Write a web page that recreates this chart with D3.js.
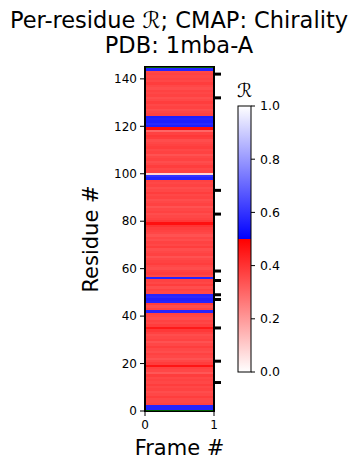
<!DOCTYPE html>
<html><head><meta charset="utf-8">
<script src="https://cdn.jsdelivr.net/npm/d3@7"></script>
<style>body{margin:0;background:#fff;} text{font-family:"DejaVu Sans",sans-serif;}</style>
</head><body><svg id="c" width="359" height="470"></svg>
<script>
// Per-residue R values, index = residue number (null = padding / undefined)
const rValues = [null,
 0.57,0.57,0.37,0.36,0.36,0.38,0.36,0.35,0.37,0.36,
 0.38,0.36,0.37,0.36,0.38,0.33,0.36,0.37,0.46,0.38,
 0.36,0.34,0.36,0.37,0.35,0.36,0.38,0.36,0.34,0.37,
 0.36,0.35,0.37,0.39,0.45,0.38,0.36,0.37,0.35,0.36,
 0.37,0.57,0.37,0.35,0.38,0.57,0.56,0.58,0.57,0.36,
 0.37,0.35,0.38,0.36,0.37,0.57,0.36,0.38,0.37,0.35,
 0.36,0.38,0.37,0.36,0.34,0.37,0.36,0.35,0.38,0.36,
 0.37,0.35,0.36,0.34,0.36,0.37,0.38,0.40,0.47,0.39,
 0.37,0.36,0.35,0.37,0.36,0.34,0.37,0.36,0.35,0.37,
 0.36,0.38,0.36,0.35,0.37,0.36,0.37,0.57,0.60,0.08,
 0.37,0.36,0.38,0.36,0.35,0.37,0.36,0.34,0.37,0.36,
 0.38,0.37,0.36,0.35,0.38,0.39,0.37,0.30,0.48,0.56,
 0.58,0.56,0.57,0.56,0.37,0.36,0.35,0.37,0.36,0.38,
 0.36,0.35,0.37,0.36,0.37,0.35,0.36,0.38,0.36,0.37,
 0.36,0.37,0.36,0.57,null];
const markedResidues = [12, 21, 35, 47, 49, 55, 59, 83, 93, 132, 142];
const yTicks = [0, 20, 40, 60, 80, 100, 120, 140];
const xTicks = [0, 1];
const cbTicks = [0, 0.2, 0.4, 0.6, 0.8, 1.0];
const titleLines = ["Per-residue \u211B; CMAP: Chirality", "PDB: 1mba-A"];

const svg = d3.select("#c");
const plot = {left:145, right:214, top:67, bottom:411};
const x = d3.scaleLinear().domain([0,1]).range([plot.left, plot.right]);
const y = d3.scaleLinear().domain([0,145]).range([plot.bottom, plot.top]);

function cmap(v){
  if (v === null || v === undefined) return "#008000";
  if (v < 0.5){ const t=v/0.5; const g=Math.round(255*(1-t)); return `rgb(255,${g},${g})`; }
  const t=(v-0.5)/0.5; const g=Math.round(255*t); return `rgb(${g},${g},255)`;
}

svg.append("defs").append("clipPath").attr("id","pc").append("rect")
  .attr("x",plot.left).attr("y",plot.top).attr("width",plot.right-plot.left).attr("height",plot.bottom-plot.top);

const cells = svg.append("g").attr("clip-path","url(#pc)");
cells.selectAll("rect").data(rValues.map((v,i)=>({v,i}))).enter().append("rect")
  .attr("x", x(0)).attr("width", x(1)-x(0))
  .attr("y", d=>y(d.i+0.5)).attr("height", d=>y(d.i-0.5)-y(d.i+0.5))
  .attr("fill", d=>cmap(d.v)).attr("shape-rendering","crispEdges");

// frame: thicker sides, thinner top/bottom
const fr = svg.append("g").attr("stroke","#000");
fr.append("line").attr("x1",plot.left).attr("x2",plot.left).attr("y1",plot.top-0.6).attr("y2",plot.bottom+0.6).attr("stroke-width",2);
fr.append("line").attr("x1",plot.right).attr("x2",plot.right).attr("y1",plot.top-0.6).attr("y2",plot.bottom+0.6).attr("stroke-width",2);
fr.append("line").attr("x1",plot.left-1).attr("x2",plot.right+1).attr("y1",plot.top-0.4).attr("y2",plot.top-0.4).attr("stroke-width",1.3);
fr.append("line").attr("x1",plot.left-1).attr("x2",plot.right+1).attr("y1",plot.bottom+0.4).attr("y2",plot.bottom+0.4).attr("stroke-width",1.3);

// y axis
const ya = svg.append("g");
yTicks.forEach(t=>{
  ya.append("line").attr("x1",plot.left-5).attr("x2",plot.left).attr("y1",y(t)).attr("y2",y(t)).attr("stroke","#000").attr("stroke-width",1);
  ya.append("text").attr("x",plot.left-8).attr("y",y(t)).attr("dy","0.35em").attr("text-anchor","end")
    .attr("font-size",12).text(t);
});
// x axis
xTicks.forEach(t=>{
  svg.append("line").attr("x1",x(t)).attr("x2",x(t)).attr("y1",plot.bottom).attr("y2",plot.bottom+5).attr("stroke","#000");
  svg.append("text").attr("x",x(t)).attr("y",plot.bottom+18).attr("text-anchor","middle").attr("font-size",12).text(t);
});
// marked residues on right
markedResidues.forEach(r=>{
  svg.append("line").attr("x1",plot.right).attr("x2",plot.right+7).attr("y1",y(r)).attr("y2",y(r))
    .attr("stroke","#000").attr("stroke-width",3);
});

// labels
svg.append("text").attr("x",(plot.left+plot.right)/2).attr("y",455).attr("text-anchor","middle").attr("font-size",21).text("Frame #");
svg.append("text").attr("transform",`translate(98,${(plot.top+plot.bottom)/2}) rotate(-90)`).attr("text-anchor","middle").attr("font-size",21).text("Residue #");
titleLines.forEach((t,i)=>{
  svg.append("text").attr("x",179).attr("y",28+i*25).attr("text-anchor","middle").attr("font-size",22.5).text(t);
});

// colorbar
const cb = {x:238, w:13, top:106, bottom:372};
const cy = d3.scaleLinear().domain([0,1]).range([cb.bottom, cb.top]);
const grad = svg.select("defs").append("linearGradient").attr("id","cg").attr("x1",0).attr("x2",0).attr("y1",1).attr("y2",0);
[[0,0],[0.5,0.4999],[0.5,0.5],[1,1]].forEach(([o,v])=>grad.append("stop").attr("offset",o).attr("stop-color",cmap(v)));
svg.append("rect").attr("x",cb.x).attr("y",cb.top).attr("width",cb.w).attr("height",cb.bottom-cb.top)
  .attr("fill","url(#cg)").attr("stroke","#000").attr("stroke-width",1);
cbTicks.forEach(t=>{
  svg.append("line").attr("x1",cb.x+cb.w).attr("x2",cb.x+cb.w+4).attr("y1",cy(t)).attr("y2",cy(t)).attr("stroke","#000");
  svg.append("text").attr("x",cb.x+cb.w+9).attr("y",cy(t)).attr("dy","0.35em").attr("font-size",12.5).text(t.toFixed(1));
});
svg.append("text").attr("x",cb.x+cb.w/2).attr("y",97).attr("text-anchor","middle").attr("font-size",19).attr("font-style","italic").text("\u211B");
</script></body></html>
